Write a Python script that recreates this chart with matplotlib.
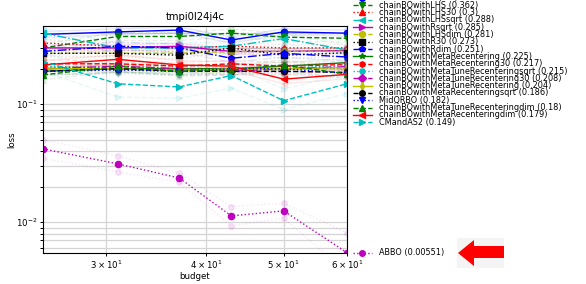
import matplotlib
matplotlib.use("Agg")
import matplotlib.pyplot as plt
import matplotlib.transforms as mtransforms
from matplotlib.lines import Line2D
from matplotlib.patches import Polygon, Rectangle

budgets = [25, 31, 37, 43, 50, 60]

names = [
    "chainBOwithR",
    "chainBOwithLHS",
    "chainBOwithLHS30",
    "chainBOwithLHSsqrt",
    "chainBOwithRsqrt",
    "chainBOwithLHSdim",
    "chainBOwithR30",
    "chainBOwithRdim",
    "chainBOwithMetaRecentering",
    "chainBOwithMetaRecentering30",
    "chainBOwithMetaTuneRecenteringsqrt",
    "chainBOwithMetaTuneRecentering30",
    "chainBOwithMetaTuneRecentering",
    "chainBOwithMetaRecenteringsqrt",
    "MidQRBO",
    "chainBOwithMetaTuneRecenteringdim",
    "chainBOwithMetaRecenteringdim",
    "CMandAS2",
    "ABBO",
]

final_labels = ["0.4", "0.362", "0.3", "0.288", "0.285", "0.281", "0.273", "0.251",
                "0.225", "0.217", "0.215", "0.208", "0.204", "0.186", "0.182",
                "0.18", "0.179", "0.149", "0.00551"]

loss_R = [0.39, 0.41, 0.425, 0.35, 0.41, 0.40]
loss_LHS = [0.30, 0.375, 0.375, 0.40, 0.37, 0.362]
loss_LHS30 = [0.33, 0.31, 0.30, 0.31, 0.30, 0.30]
loss_LHSsqrt = [0.40, 0.30, 0.30, 0.31, 0.36, 0.288]
loss_Rsqrt = [0.30, 0.30, 0.31, 0.28, 0.28, 0.285]
loss_LHSdim = [0.27, 0.27, 0.27, 0.28, 0.28, 0.281]
loss_R30 = [0.27, 0.27, 0.26, 0.30, 0.26, 0.273]
loss_Rdim = [0.28, 0.31, 0.30, 0.245, 0.27, 0.251]
loss_MetaRec = [0.19, 0.20, 0.20, 0.20, 0.21, 0.225]
loss_MetaRec30 = [0.22, 0.22, 0.21, 0.22, 0.21, 0.217]
loss_MetaTuneRecsqrt = [0.21, 0.20, 0.19, 0.20, 0.20, 0.215]
loss_MetaTuneRec30 = [0.20, 0.21, 0.20, 0.19, 0.20, 0.208]
loss_MetaTuneRec = [0.20, 0.20, 0.19, 0.20, 0.20, 0.204]
loss_MetaRecsqrt = [0.19, 0.20, 0.19, 0.19, 0.19, 0.186]
loss_MidQRBO = [0.19, 0.195, 0.19, 0.20, 0.20, 0.182]
loss_MetaTuneRecdim = [0.177, 0.21, 0.19, 0.195, 0.215, 0.18]
loss_MetaRecdim = [0.215, 0.24, 0.215, 0.21, 0.163, 0.179]
loss_CMandAS2 = [0.23, 0.149, 0.14, 0.175, 0.107, 0.149]
loss_ABBO = [0.0418, 0.0312, 0.0237, 0.0113, 0.01247, 0.00551]

all_losses = [loss_R, loss_LHS, loss_LHS30, loss_LHSsqrt, loss_Rsqrt, loss_LHSdim,
              loss_R30, loss_Rdim, loss_MetaRec, loss_MetaRec30, loss_MetaTuneRecsqrt,
              loss_MetaTuneRec30, loss_MetaTuneRec, loss_MetaRecsqrt, loss_MidQRBO,
              loss_MetaTuneRecdim, loss_MetaRecdim, loss_CMandAS2, loss_ABBO]

# faint bounds
upper_CMandAS2 = [0.27, 0.19, 0.18, 0.21, 0.135, 0.18]
lower_CMandAS2 = [0.19, 0.115, 0.112, 0.137, 0.09, 0.123]
upper_ABBO = [0.05, 0.0365, 0.026, 0.01355, 0.01449, 0.00807]
lower_ABBO = [0.0348, 0.0267, 0.0218, 0.0093, 0.0108, 0.0038]
# multiplicative half-band of faint lines for the other curves
spread = [1.06, 1.08, 1.07, 1.10, 1.06, 1.05, 1.07, 1.08, 1.08, 1.07, 1.08,
          1.07, 1.06, 1.07, 1.08, 1.10, 1.09]

colors = ["b", "g", "r", "c", "m", "y", "k", "b", "g", "r", "c", "m", "y", "k",
          "b", "g", "r", "c", "m"]
linestyles = ["-", "--", ":", "-.", "-", "--", ":", "-.", "-", "--", ":", "-.", "-",
              "--", ":", "--", "-", "--", ":"]
markers = ["o", "v", "^", "<", ">", "8", "s", "p", "*", "h", "H", "D", "d", "o",
           "v", "^", "<", ">", "o"]

fig = plt.figure(figsize=(5.86, 2.84), dpi=100)
ax = fig.add_axes([43 / 586, 1 - 252.7 / 284, (347 - 43) / 586, (252.7 - 26) / 284])
ax.set_xscale("log")
ax.set_yscale("log")

for i, (name, vals) in enumerate(zip(names, all_losses)):
    c, ls, mk = colors[i], linestyles[i], markers[i]
    if name == "CMandAS2":
        up, lo = upper_CMandAS2, lower_CMandAS2
    elif name == "ABBO":
        up, lo = upper_ABBO, lower_ABBO
    else:
        up = [v * spread[i] for v in vals]
        lo = [v / spread[i] for v in vals]
    for b in (up, lo):
        ax.plot(budgets, b, color=c, linestyle=ls, marker=mk, markersize=4,
                linewidth=1, alpha=0.1)
    ax.plot(budgets, vals, color=c, linestyle=ls, marker=mk, markersize=4.5,
            linewidth=1)

ax.set_xlim(25, 60)
ax.set_ylim(0.00551, 0.46)
ax.grid(True, which="both", color="#d4d4d4", linewidth=0.9)
ax.set_axisbelow(True)
ax.tick_params(which="both", labelsize=6.2, length=2.5, width=0.7, pad=1.5)
ax.set_xlabel("budget", fontsize=6.2, labelpad=1)
ax.set_ylabel("loss", fontsize=6.2, labelpad=0)
ax.set_title("tmpi0l24j4c", fontsize=7.2, pad=4)
for s in ax.spines.values():
    s.set_linewidth(0.8)

# legend texts placed to the right
blend_fig = mtransforms.blended_transform_factory(ax.transAxes, fig.transFigure)
blend_data = mtransforms.blended_transform_factory(ax.transAxes, ax.transData)
x_line = [1.02, 1.05, 1.082]
x_text = 1.105
for i, name in enumerate(names):
    label = f"{name} ({final_labels[i]})"
    if name == "ABBO":
        tr = blend_data
        yy = all_losses[i][-1]
    else:
        tr = blend_fig
        yy = 1 - (-2.3 + 7.33 * i) / 284
    ln = Line2D(x_line, [yy] * 3, color=colors[i], linestyle=linestyles[i],
                marker=markers[i], markevery=[1], markersize=4, linewidth=1,
                transform=tr, clip_on=False)
    fig.add_artist(ln)
    fig.text(x_text, yy, label, transform=tr, fontsize=5.9, va="center", ha="left")

# red arrow image at the right of the best curve
fig.add_artist(Rectangle((457 / 586, 1 - 268 / 284), 47 / 586, 30 / 284,
                         transform=fig.transFigure, facecolor="#f4f4f4",
                         edgecolor="none"))
arrow_px = [(458, 253), (474, 240), (474, 246), (504, 246), (504, 258),
            (474, 258), (474, 266)]
fig.add_artist(Polygon([(x / 586, 1 - y / 284) for x, y in arrow_px],
                       closed=True, transform=fig.transFigure, facecolor="red",
                       edgecolor="none"))

fig.savefig("out.png", dpi=100)
